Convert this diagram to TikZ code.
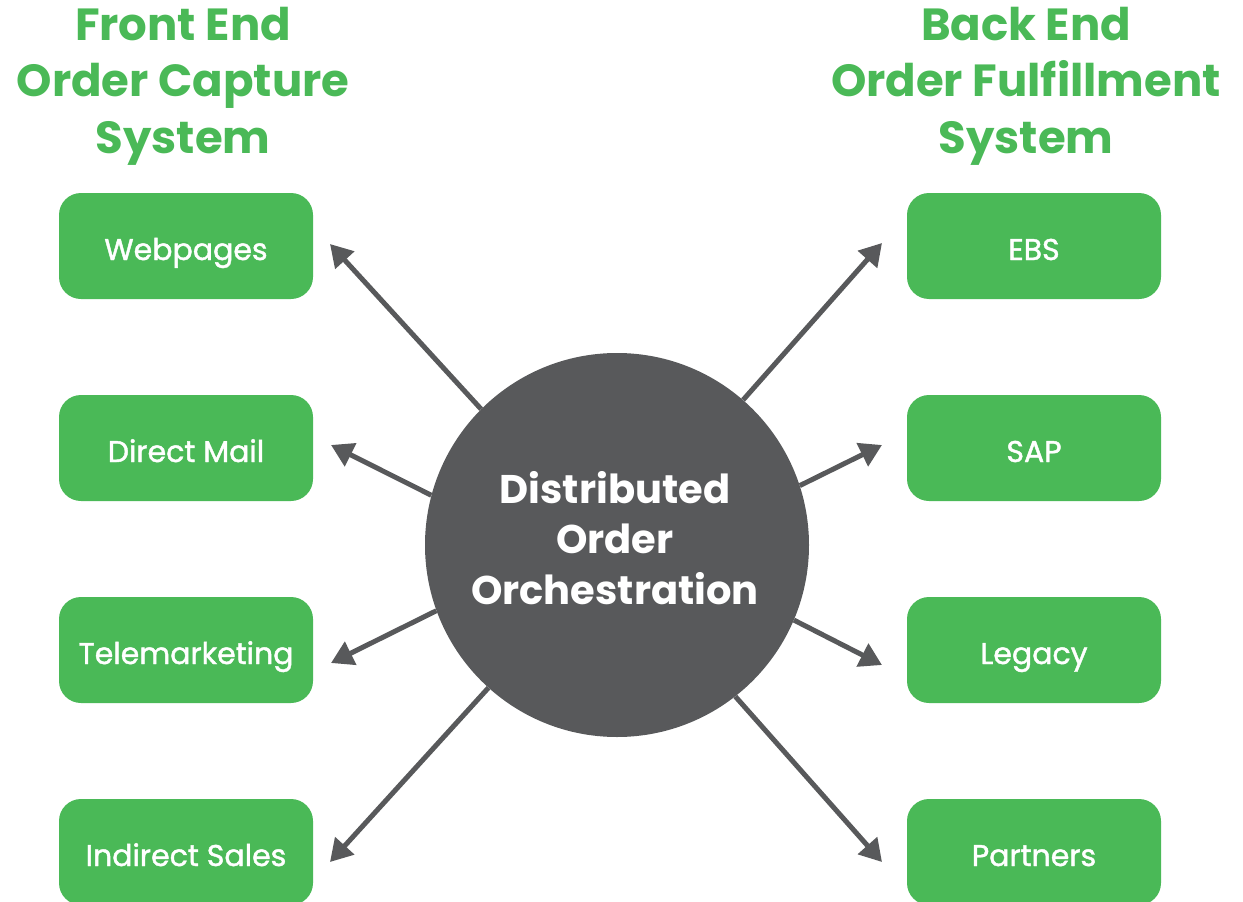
\documentclass[tikz,border=0pt]{standalone}
\usepackage{fontspec}
\setmainfont{Poppins}
\newfontfamily\boxfont{Poppins}[FakeBold=1.4]
\usetikzlibrary{arrows.meta}
\definecolor{fgreen}{RGB}{74,185,87}
\definecolor{dgray}{RGB}{88,89,91}
\tikzset{
  sysbox/.style={fill=fgreen, rounded corners=22pt, minimum width=254pt, minimum height=106pt, text=white, font=\boxfont\fontsize{30}{36}\selectfont, inner sep=0pt, text height=28pt, text depth=0pt},
  title/.style={text=fgreen, font=\fontsize{45}{56.5}\selectfont\bfseries, align=center},
  hub/.style={circle, fill=dgray, minimum size=384pt, inner sep=0pt, text=white, font=\fontsize{40}{50.5}\selectfont\bfseries, align=center},
  conn/.style={draw=dgray, line width=5pt, -{Triangle[length=22pt,width=25pt]}}
}
\begin{document}
\begin{tikzpicture}[x=1pt,y=-1pt]
\useasboundingbox (0,0) rectangle (1243,902);
\node[title] (ft) at (183,86) {Front End\\Order Capture\\System};
\node[title] (bt) at (1026,86) {Back End\\Order Fulfillment\\System};
\node[sysbox] (web) at (186,246) {Webpages};
\node[sysbox] (dm) at (186,448) {Direct Mail};
\node[sysbox] (tm) at (186,650) {Telemarketing};
\node[sysbox] (is) at (186,852) {Indirect Sales};
\node[sysbox] (ebs) at (1034,246) {EBS};
\node[sysbox] (sap) at (1034,448) {SAP};
\node[sysbox] (leg) at (1034,650) {Legacy};
\node[sysbox] (par) at (1034,852) {Partners};
\node[hub] (c) at (617,545) {};
\node[text=white, font=\fontsize{40}{50.5}\selectfont\bfseries, align=center] (ct) at (615,538) {Distributed\\Order\\Orchestration};
\coordinate (tweb) at (330,244);
\coordinate (tdm) at (331,445);
\coordinate (ttm) at (331,663);
\coordinate (tis) at (330,862);
\coordinate (tebs) at (882,243);
\coordinate (tsap) at (882,445);
\coordinate (tleg) at (882,665);
\coordinate (tpar) at (882,862);
\draw[conn] (c.135) -- (tweb);
\draw[conn] (c.165) -- (tdm);
\draw[conn] (c.200) -- (ttm);
\draw[conn] (c.228) -- (tis);
\draw[conn] (c.49.5) -- (tebs);
\draw[conn] (c.18) -- (tsap);
\draw[conn] (c.-23) -- (tleg);
\draw[conn] (c.-52.5) -- (tpar);
\end{tikzpicture}
\end{document}
